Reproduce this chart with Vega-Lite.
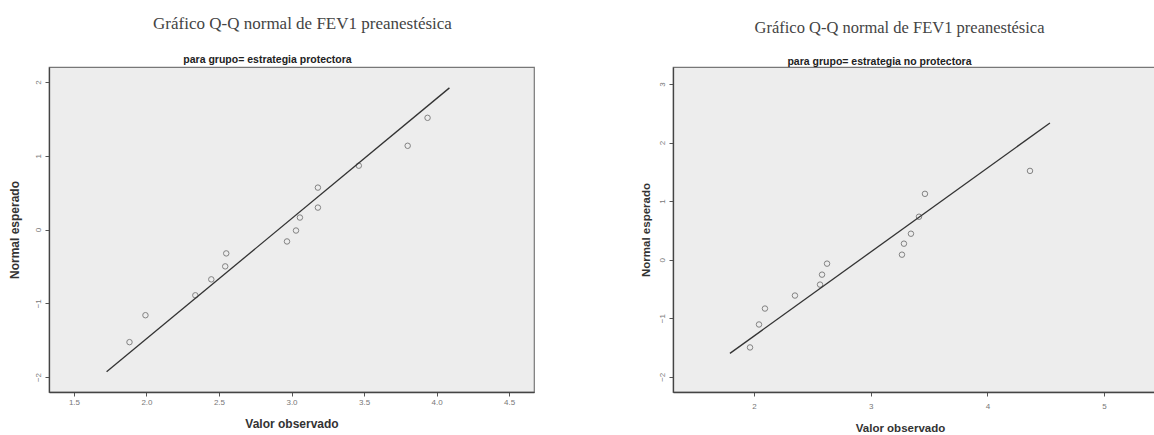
{
  "$schema": "https://vega.github.io/schema/vega-lite/v6.json",
  "background": "white",
  "padding": {"left": 7, "top": 14, "right": 0, "bottom": 0},
  "spacing": 104,
  "config": {
    "view": {"fill": "#ededed", "stroke": "#777", "strokeWidth": 1.2},
    "axis": {
      "grid": false,
      "domainColor": "#444",
      "domainWidth": 1.3,
      "tickColor": "#555",
      "tickSize": 4,
      "labelFont": "Liberation Sans",
      "labelFontSize": 8,
      "labelColor": "#777",
      "titleFont": "Liberation Sans",
      "titleFontSize": 12,
      "titleFontWeight": "bold",
      "titleColor": "#333"
    }
  },
  "datasets": {
    "p1": [
      {"obs": 1.883, "esp": -1.527}, {"obs": 1.993, "esp": -1.162}, {"obs": 2.337, "esp": -0.892},
      {"obs": 2.447, "esp": -0.676}, {"obs": 2.543, "esp": -0.5}, {"obs": 2.55, "esp": -0.324},
      {"obs": 2.969, "esp": -0.162}, {"obs": 3.031, "esp": -0.014}, {"obs": 3.058, "esp": 0.162},
      {"obs": 3.182, "esp": 0.297}, {"obs": 3.182, "esp": 0.568}, {"obs": 3.464, "esp": 0.865},
      {"obs": 3.801, "esp": 1.135}, {"obs": 3.938, "esp": 1.514}
    ],
    "l1": [{"obs": 1.725, "esp": -1.93}, {"obs": 4.089, "esp": 1.92}],
    "p2": [
      {"obs": 1.966, "esp": -1.499}, {"obs": 2.043, "esp": -1.107}, {"obs": 2.094, "esp": -0.835},
      {"obs": 2.351, "esp": -0.613}, {"obs": 2.566, "esp": -0.426}, {"obs": 2.583, "esp": -0.256},
      {"obs": 2.626, "esp": -0.068}, {"obs": 3.268, "esp": 0.085}, {"obs": 3.285, "esp": 0.273},
      {"obs": 3.345, "esp": 0.443}, {"obs": 3.414, "esp": 0.733}, {"obs": 3.465, "esp": 1.124},
      {"obs": 4.365, "esp": 1.516}
    ],
    "l2": [{"obs": 1.794, "esp": -1.6}, {"obs": 4.536, "esp": 2.334}]
  },
  "hconcat": [
    {
      "width": 485,
      "height": 325,
      "title": {"text": "Gráfico Q-Q normal de FEV1 preanestésica", "font": "Liberation Serif", "fontSize": 17, "fontWeight": "normal", "color": "#444", "anchor": "middle", "dx": 11, "offset": 21},
      "layer": [
        {
          "data": {"name": "p1"},
          "mark": {"type": "point", "shape": "circle", "filled": false, "size": 30, "stroke": "#555", "strokeWidth": 1},
          "encoding": {
            "x": {"field": "obs", "type": "quantitative", "scale": {"domain": [1.328, 4.672], "nice": false, "zero": false},
              "axis": {"title": "Valor observado", "values": [1.5, 2, 2.5, 3, 3.5, 4, 4.5], "format": ".1f", "labelPadding": 2, "titlePadding": 12}},
            "y": {"field": "esp", "type": "quantitative", "scale": {"domain": [-2.203, 2.203], "nice": false, "zero": false},
              "axis": {"title": "Normal esperado", "values": [-2, -1, 0, 1, 2], "format": "d", "labelAngle": -90, "labelAlign": "center", "labelBaseline": "bottom", "labelPadding": 3, "titlePadding": 13}}
          }
        },
        {
          "data": {"name": "l1"},
          "mark": {"type": "line", "color": "#333", "strokeWidth": 1.3},
          "encoding": {
            "x": {"field": "obs", "type": "quantitative",
              "axis": {"orient": "top", "title": "para grupo= estrategia protectora", "labels": false, "ticks": false, "domain": false, "titleX": 218, "titleY": -8, "titleBaseline": "middle", "titleAlign": "center", "titleFontSize": 10.5, "titleColor": "#222"}},
            "y": {"field": "esp", "type": "quantitative", "axis": null}
          }
        }
      ],
      "resolve": {"axis": {"x": "independent", "y": "independent"}}
    },
    {
      "width": 485,
      "height": 325,
      "title": {"text": "Gráfico Q-Q normal de FEV1 preanestésica", "font": "Liberation Serif", "fontSize": 16.5, "fontWeight": "normal", "color": "#444", "anchor": "middle", "dx": -16, "offset": 20},
      "layer": [
        {
          "data": {"name": "p2"},
          "mark": {"type": "point", "shape": "circle", "filled": false, "size": 30, "stroke": "#555", "strokeWidth": 1},
          "encoding": {
            "x": {"field": "obs", "type": "quantitative", "scale": {"domain": [1.306, 5.462], "nice": false, "zero": false},
              "axis": {"title": "Valor observado", "values": [2, 3, 4, 5], "format": "d", "labelPadding": 6, "titlePadding": 12, "titleX": 227, "titleFontSize": 11.5}},
            "y": {"field": "esp", "type": "quantitative", "scale": {"domain": [-2.26, 3.29], "nice": false, "zero": false},
              "axis": {"title": "Normal esperado", "values": [-2, -1, 0, 1, 2, 3], "format": "d", "labelAngle": -90, "labelAlign": "center", "labelBaseline": "bottom", "labelPadding": 3, "titlePadding": 7, "titleFontSize": 11.5}}
          }
        },
        {
          "data": {"name": "l2"},
          "mark": {"type": "line", "color": "#333", "strokeWidth": 1.3},
          "encoding": {
            "x": {"field": "obs", "type": "quantitative",
              "axis": {"orient": "top", "title": "para grupo= estrategia no protectora", "labels": false, "ticks": false, "domain": false, "titleX": 206, "titleY": -6, "titleBaseline": "middle", "titleAlign": "center", "titleFontSize": 10.5, "titleColor": "#222"}},
            "y": {"field": "esp", "type": "quantitative", "axis": null}
          }
        }
      ],
      "resolve": {"axis": {"x": "independent", "y": "independent"}}
    }
  ]
}
